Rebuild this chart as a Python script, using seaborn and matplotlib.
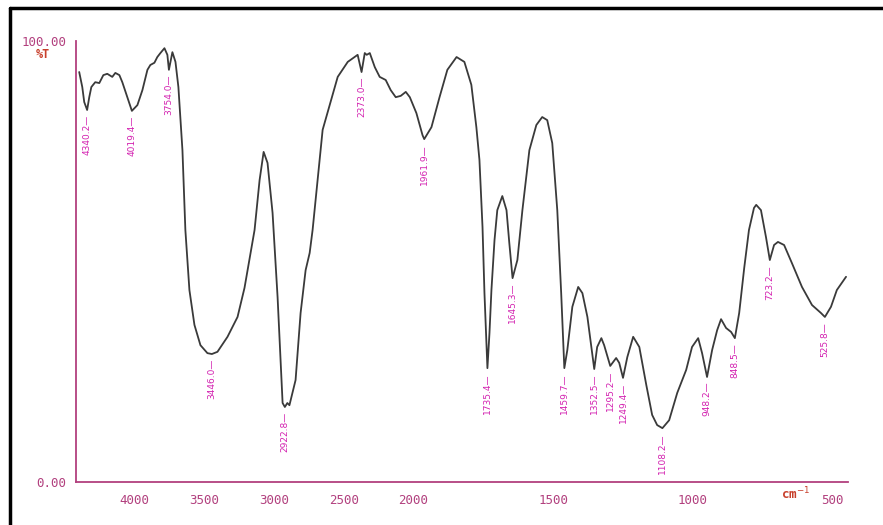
import numpy as np
import matplotlib
matplotlib.use("Agg")
import matplotlib.pyplot as plt
from matplotlib.lines import Line2D
import seaborn as sns

# ---- data ----
wavenumber = [4397, 4375, 4361, 4340.2, 4325, 4310, 4282, 4253, 4224, 4196, 4160, 4138, 4109, 4088,
              4052, 4019.4, 3980, 3944, 3908, 3887, 3858, 3837, 3815, 3786, 3765, 3754.0, 3729, 3707,
              3686, 3657, 3636, 3607, 3571, 3528, 3478, 3446.0, 3406, 3334, 3262, 3212, 3140, 3104,
              3075, 3047, 3011, 2975, 2953, 2939, 2922.8, 2905, 2890, 2846, 2810, 2774, 2745, 2724,
              2688, 2652, 2616, 2544, 2472, 2401, 2373.0, 2350, 2336, 2314, 2278, 2243, 2200, 2164,
              2128, 2092, 2056, 2027, 1990, 1968, 1961.9, 1936, 1907, 1879, 1846, 1818, 1793, 1775,
              1764, 1753, 1746, 1735.4, 1728, 1721, 1710, 1700, 1682, 1667, 1657, 1645.3, 1628, 1610,
              1585, 1560, 1539, 1521, 1503, 1485, 1471, 1459.7, 1449, 1431, 1410, 1395, 1377, 1363,
              1352.5, 1342, 1327, 1317, 1295.2, 1274, 1263, 1249.4, 1234, 1213, 1191, 1166, 1145,
              1127, 1108.2, 1084, 1055, 1023, 1002, 980, 966, 948.2, 930, 912, 898, 880, 862, 848.5,
              833, 815, 798, 780, 772, 755, 737, 723.2, 708, 694, 672, 644, 608, 572, 540, 525.8,
              504, 483, 450]
transmittance = [92.9, 89.5, 86.1, 84.3, 87.2, 89.5, 90.6, 90.4, 92.2, 92.5, 91.8, 92.7, 92.2, 90.6,
                 87.2, 84.1, 85.4, 88.8, 93.4, 94.5, 95.0, 96.3, 97.2, 98.3, 96.8, 93.4, 97.4, 95.2,
                 89.5, 75.2, 57.1, 43.5, 35.6, 31.0, 29.2, 29.0, 29.5, 32.9, 37.4, 44.0, 57.1, 68.4,
                 74.8, 72.3, 61.0, 41.9, 27.0, 17.9, 17.0, 17.9, 17.4, 23.1, 38.3, 48.0, 51.9, 57.1,
                 68.4, 79.8, 83.8, 91.8, 95.2, 96.8, 92.9, 97.2, 96.8, 97.2, 94.0, 91.8, 91.1, 88.8,
                 87.2, 87.5, 88.4, 87.2, 83.6, 78.6, 77.7, 80.4, 87.2, 93.4, 96.3, 95.2, 90.0, 80.4,
                 73.0, 57.8, 42.8, 25.8, 33.8, 43.5, 54.8, 61.6, 64.8, 61.6, 54.2, 46.2, 50.3, 61.6,
                 75.2, 80.9, 82.7, 82.0, 76.8, 61.6, 42.8, 25.8, 29.9, 39.7, 44.2, 42.8, 37.4, 30.6,
                 25.6, 30.6, 32.6, 31.0, 26.3, 28.1, 27.0, 23.6, 28.3, 32.9, 30.6, 22.0, 15.2,
                 12.9, 12.2, 14.0, 20.2, 25.4, 30.6, 32.6, 29.2, 23.8, 29.9, 34.4, 36.9, 34.9, 34.0, 32.6,
                 38.3, 48.5, 57.1, 62.1, 62.8, 61.6, 55.5, 50.3, 53.7, 54.4, 53.7, 49.6, 44.2, 40.1, 38.3, 37.4,
                 39.7, 43.5, 46.5]

peak_labels = ["4340.2", "4019.4", "3754.0", "3446.0", "2922.8", "2373.0", "1961.9", "1735.4",
               "1645.3", "1459.7", "1352.5", "1295.2", "1249.4", "1108.2", "948.2", "848.5",
               "723.2", "525.8"]
peak_wn = [4340.2, 4019.4, 3754.0, 3446.0, 2922.8, 2373.0, 1961.9, 1735.4, 1645.3, 1459.7,
           1352.5, 1295.2, 1249.4, 1108.2, 948.2, 848.5, 723.2, 525.8]
peak_T = [84.3, 84.1, 93.4, 29.0, 17.0, 92.9, 77.7, 25.8, 46.2, 25.8, 25.6, 26.3, 23.6, 12.2,
          23.8, 32.6, 50.3, 37.4]

x_ticks = [4000, 3500, 3000, 2500, 2000, 1500, 1000, 500]
x_ticklabels = ["4000", "3500", "3000", "2500", "2000", "1500", "1000", "500"]

# ---- styling ----
sns.set_style("white")
plt.rcParams["font.family"] = ["DejaVu Sans"]

AXIS_COL = "#b2407e"
LABEL_COL = "#d321b0"
RED_COL = "#c8402c"

fig = plt.figure(figsize=(8.83, 5.25), dpi=100)
W, H = 883, 525
ax = fig.add_axes([76 / W, 1 - 482 / H, (848 - 76) / W, (482 - 40.7) / H])


def fwd(w):
    w = np.asarray(w, dtype=float)
    return np.where(w > 2000, 2000 + (w - 2000) / 2.0, w)


def inv(u):
    u = np.asarray(u, dtype=float)
    return np.where(u > 2000, 2000 + (u - 2000) * 2.0, u)


sns.lineplot(x=wavenumber, y=transmittance, sort=False, estimator=None,
             color="#3a3a3a", lw=1.3, ax=ax)

ax.set_xscale("function", functions=(fwd, inv))
ax.set_xlim(4420, 443)
ax.set_ylim(0, 100)

for s in ["top", "right"]:
    ax.spines[s].set_visible(False)
for s in ["left", "bottom"]:
    ax.spines[s].set_color(AXIS_COL)
    ax.spines[s].set_linewidth(1.3)

ax.set_xticks(x_ticks)
ax.set_xticklabels(x_ticklabels)
ax.set_xticks([2000], minor=True)
ax.tick_params(axis="x", which="major", direction="out", length=5, width=1.2,
               color=AXIS_COL, labelcolor=AXIS_COL, labelsize=9, pad=4)
ax.tick_params(axis="x", which="minor", direction="inout", length=9, width=1.2, color=AXIS_COL)
for t in ax.get_xticklabels():
    t.set_family("DejaVu Sans Mono")

ax.set_yticks([0, 80, 100])
ax.set_yticklabels(["0.00", "", "100.00"])
ax.tick_params(axis="y", direction="out", length=6, width=1.2,
               color=AXIS_COL, labelcolor=AXIS_COL, labelsize=9, pad=1)
for t in ax.get_yticklabels():
    t.set_family("DejaVu Sans Mono")
ax.set_xlabel("")
ax.set_ylabel("")
ax.grid(False)

# %T and cm-1 labels
fig.text(36 / W, 1 - 55 / H, "%T", color=RED_COL, fontsize=8.5, family="DejaVu Sans Mono",
         fontweight="bold", ha="left", va="center")
fig.text(781 / W, 1 - 494 / H, r"cm$^{-1}$", color=RED_COL, fontsize=9, family="DejaVu Sans Mono",
         fontweight="bold", ha="left", va="center")

# peak labels
for lab, wv, tv in zip(peak_labels, peak_wn, peak_T):
    ax.annotate(lab + "\u2014", xy=(wv, tv), xytext=(0, -3.5), textcoords="offset points",
                rotation=90, ha="center", va="top", fontsize=6.5, color=LABEL_COL)

# scan frame
fig.add_artist(Line2D([10 / W, 10 / W], [0, 1 - 8 / H], transform=fig.transFigure,
                      color="black", lw=2.5))
fig.add_artist(Line2D([10 / W, 1], [1 - 8 / H, 1 - 8 / H], transform=fig.transFigure,
                      color="black", lw=2.5))

fig.savefig("out.png", dpi=100, facecolor="white")
